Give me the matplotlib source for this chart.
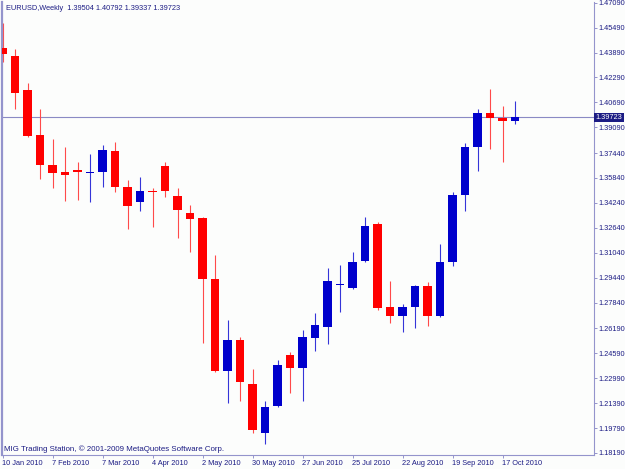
import matplotlib
matplotlib.use('Agg')
import matplotlib.pyplot as plt
from matplotlib.patches import Rectangle
import matplotlib.transforms as mtrans

# EURUSD weekly candles, 10 Jan 2010 .. 24 Oct 2010
opens = [1.4418, 1.4367, 1.4149, 1.3860, 1.3665, 1.3624, 1.3637, 1.3615, 1.3624, 1.3759,
         1.3528, 1.3432, 1.3502, 1.3663, 1.3468, 1.3361, 1.3325, 1.2936, 1.2345, 1.2544,
         1.2262, 1.1949, 1.2123, 1.2448, 1.2366, 1.2559, 1.2630, 1.2895, 1.2876, 1.3051,
         1.3287, 1.2756, 1.2700, 1.2758, 1.2891, 1.2698, 1.3043, 1.3475, 1.3781, 1.4003,
         1.3969, 1.39504]
highs = [1.4579, 1.4412, 1.4194, 1.4027, 1.3834, 1.3785, 1.3689, 1.3736, 1.3796, 1.3817,
         1.3571, 1.3588, 1.3518, 1.3689, 1.3518, 1.3411, 1.3334, 1.3090, 1.2673, 1.2565,
         1.2356, 1.2153, 1.2416, 1.2465, 1.2608, 1.2719, 1.3004, 1.3026, 1.3107, 1.3332,
         1.3303, 1.2923, 1.2775, 1.2897, 1.2915, 1.3158, 1.3492, 1.3807, 1.4027, 1.4153,
         1.4046, 1.40792]
lows = [1.4328, 1.4027, 1.3847, 1.3578, 1.3522, 1.3438, 1.3443, 1.3432, 1.3528, 1.3492,
        1.3257, 1.3374, 1.3271, 1.3464, 1.3197, 1.3107, 1.2523, 1.2336, 1.2142, 1.2153,
        1.1949, 1.1875, 1.2112, 1.2206, 1.2153, 1.2476, 1.2517, 1.2726, 1.2870, 1.3048,
        1.2737, 1.2655, 1.2596, 1.2623, 1.2636, 1.2694, 1.3021, 1.3374, 1.3631, 1.3768,
        1.3689, 1.39337]
closes = [1.4380, 1.4129, 1.3854, 1.3667, 1.3618, 1.3605, 1.3621, 1.3621, 1.3764, 1.3524,
          1.3404, 1.3502, 1.3494, 1.3500, 1.3379, 1.3321, 1.2934, 1.2345, 1.2544, 1.2277,
          1.1967, 1.2112, 1.2384, 1.2366, 1.2561, 1.2640, 1.2925, 1.2906, 1.3045, 1.3276,
          1.2748, 1.2700, 1.2758, 1.2891, 1.2700, 1.3047, 1.3477, 1.3785, 1.3999, 1.3967,
          1.3948, 1.39723]

date_pos = [0, 4, 8, 12, 16, 20, 24, 28, 32, 36, 40]
date_labels = ['10 Jan 2010', '7 Feb 2010', '7 Mar 2010', '4 Apr 2010', '2 May 2010',
               '30 May 2010', '27 Jun 2010', '25 Jul 2010', '22 Aug 2010',
               '19 Sep 2010', '17 Oct 2010']

price_ticks = [1.47090, 1.45490, 1.43890, 1.42290, 1.40690, 1.39090, 1.37440, 1.35840,
               1.34240, 1.32640, 1.31040, 1.29440, 1.27840, 1.26190, 1.24590, 1.22990,
               1.21390, 1.19790, 1.18190]

title = 'EURUSD,Weekly  1.39504 1.40792 1.39337 1.39723'
footer = 'MIG Trading Station, \u00a9 2001-2009 MetaQuotes Software Corp.'
last_price = 1.39723

W, H = 625, 469
frame = '#9494CC'
ink = '#1C1C84'
up_body, up_wick = '#0000CC', '#3535D8'
dn_body, dn_wick = '#FF0000', '#FF4A4A'
fs = 5.3

plt.rcParams['font.family'] = ['Liberation Sans', 'DejaVu Sans']
fig = plt.figure(figsize=(W / 100, H / 100), dpi=100, facecolor='#FCFDFC')
ax = fig.add_axes([2 / W, 14 / H, 592 / W, 453 / H], facecolor='#FCFDFC')

bw = 0.66
for i, (o, h, l, c) in enumerate(zip(opens, highs, lows, closes)):
    up = c >= o
    ax.vlines(i, l, h, color=up_wick if up else dn_wick, lw=0.8, zorder=2)
    bot = min(o, c)
    hgt = max(abs(c - o), 0.0007)
    ax.add_patch(Rectangle((i - bw / 2, bot), bw, hgt, facecolor=up_body if up else dn_body,
                           edgecolor='none', zorder=3))

ax.axhline(last_price, color='#8A8AC4', lw=0.8, zorder=1)

ax.set_xlim(-0.04, 47.32)
ax.set_ylim(1.18061, 1.47135)

ax.set_xticks(date_pos)
ax.set_xticklabels(date_labels, ha='left', fontsize=fs, color=ink)
ax.set_yticks(price_ticks)
ax.set_yticklabels(['%.5f' % v for v in price_ticks], fontsize=fs, color=ink)
ax.yaxis.tick_right()
ax.tick_params(axis='x', length=2.5, width=0.7, color=frame, pad=1)
ax.tick_params(axis='y', length=2.2, width=0.7, color=frame, pad=1)

for s in ['left', 'right', 'bottom']:
    ax.spines[s].set_color(frame)
    ax.spines[s].set_linewidth(0.8)
ax.spines['left'].set_linewidth(1.6)
ax.spines['top'].set_visible(False)

# current price marker on the price scale
tr = mtrans.blended_transform_factory(ax.transAxes, ax.transData)
ax.text(1.003, last_price, '%.5f' % last_price, transform=tr, ha='left', va='center',
        fontsize=fs, color='white', zorder=5, clip_on=False,
        bbox=dict(boxstyle='square,pad=0.2', facecolor='#1C1C84', edgecolor='none'))

fig.text(6 / W, 1 - 8 / H, title, fontsize=fs, color=ink, va='center', ha='left')
fig.text(4 / W, 1 - 449 / H, footer, fontsize=5.7, color=ink, va='center', ha='left')

fig.savefig('out.png', dpi=100, facecolor=fig.get_facecolor())
